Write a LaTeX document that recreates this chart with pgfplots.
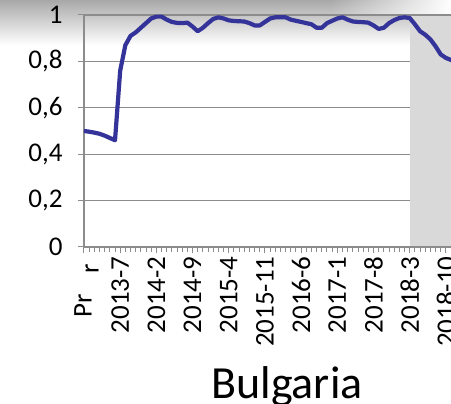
\documentclass[border=0pt]{standalone}
\usepackage{fontspec}
\setmainfont{Carlito}
\usepackage{pgfplots}
\pgfplotsset{compat=1.18}
\usetikzlibrary{fadings}
\definecolor{linec}{RGB}{51,51,153}
\definecolor{gridc}{RGB}{140,140,140}
\definecolor{shadec}{RGB}{217,217,217}
\pgfplotstableread{
i v
0 0.500
1 0.497
2 0.493
3 0.488
4 0.480
5 0.470
6 0.460
7 0.760
8 0.870
9 0.910
10 0.925
11 0.945
12 0.965
13 0.985
14 0.993
15 0.993
16 0.980
17 0.970
18 0.966
19 0.965
20 0.967
21 0.950
22 0.930
23 0.945
24 0.965
25 0.983
26 0.990
27 0.985
28 0.977
29 0.974
30 0.973
31 0.972
32 0.965
33 0.955
34 0.955
35 0.970
36 0.985
37 0.990
38 0.990
39 0.990
40 0.980
41 0.975
42 0.970
43 0.965
44 0.960
45 0.945
46 0.945
47 0.965
48 0.975
49 0.985
50 0.990
51 0.980
52 0.972
53 0.970
54 0.969
55 0.967
56 0.955
57 0.940
58 0.945
59 0.965
60 0.978
61 0.987
62 0.990
63 0.987
64 0.960
65 0.930
66 0.915
67 0.895
68 0.865
69 0.830
70 0.815
71 0.806
72 0.800
}\bgdata
\begin{document}
\begin{tikzpicture}[x=1pt,y=1pt]
\useasboundingbox (0,0) rectangle (451,404);
\clip (0,0) rectangle (451,404);
\shade[top color=black!34, bottom color=white] (0,359) rectangle (451,404);
\fill[white, path fading=west] (330,388) rectangle (451,404);
\begin{axis}[
  at={(84pt,157pt)}, anchor=south west, scale only axis,
  width=387.75pt, height=232pt,
  xmin=0, xmax=75, ymin=0, ymax=1,
  axis x line*=bottom, axis y line*=left,
  axis line style={gridc, line width=1.2pt},
  tick align=outside, major tick length=6pt, minor tick length=5pt,
  tick style={gridc, line width=1pt},
  ytick={0,0.2,0.4,0.6,0.8,1},
  yticklabels={0,{0,2},{0,4},{0,6},{0,8},1},
  ymajorgrids, major grid style={gridc, line width=1.2pt},
  xtick={0,7,...,70},
  xticklabels={,2013-7,2014-2,2014-9,2015-4,2015-11,2016-6,2017-1,2017-8,2018-3,2018-10},
  minor xtick={0,...,75},
  ticklabel style={font=\fontsize{27}{27}\selectfont},
  xticklabel style={rotate=90, anchor=east},
  yticklabel style={xshift=-12pt},
  clip=true,
]
\addplot[draw=none, fill=shadec] coordinates {(63,0) (75,0) (75,1) (63,1)} -- cycle;
\draw[gridc, line width=1.2pt] (axis cs:0,1) -- (axis cs:75,1);
\draw[gridc, line width=1.2pt] (axis cs:0,0) -- (axis cs:75,0);
\addplot[linec, line width=4.2pt, line join=round] table[x=i, y=v] {\bgdata};
\end{axis}
\node[rotate=90, anchor=west, inner sep=0pt, font=\fontsize{27}{27}\selectfont] at (83,86) {Pr};
\node[rotate=90, anchor=east, inner sep=0pt, font=\fontsize{27}{27}\selectfont] at (92,140) {r};
\node[anchor=base, inner sep=0pt, font=\fontsize{46}{46}\selectfont] at (287,5) {Bulgaria};
\end{tikzpicture}
\end{document}
